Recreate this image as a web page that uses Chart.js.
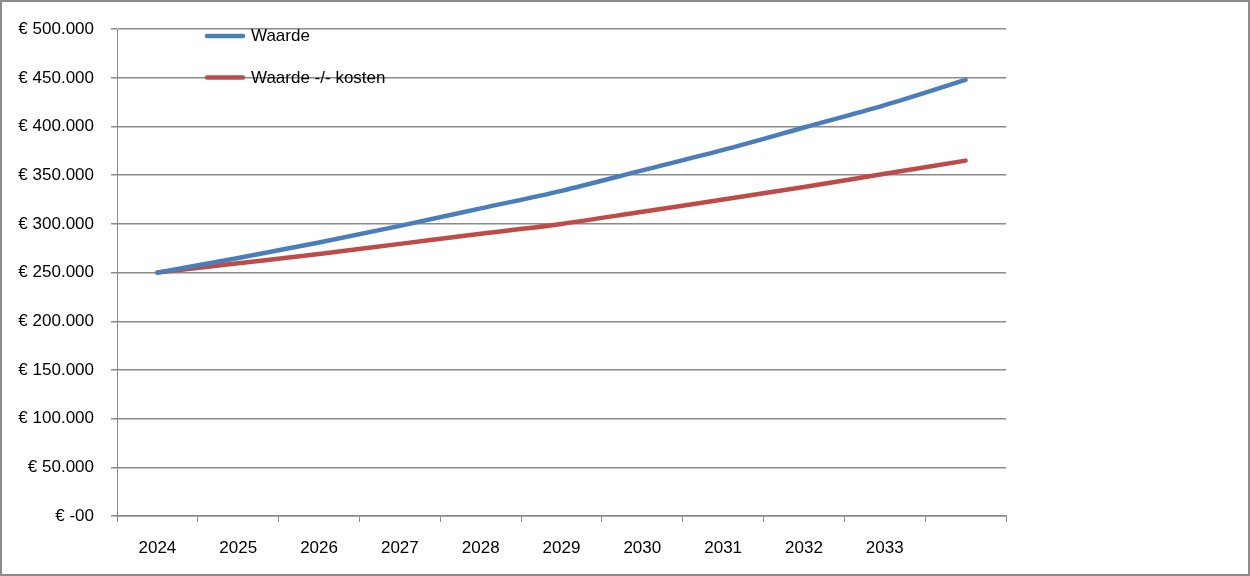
<!DOCTYPE html>
<html>
<head>
<meta charset="utf-8">
<script src="https://cdn.jsdelivr.net/npm/chart.js@4"></script>
<style>
  body { margin: 0; background: #fff; }
  #wrap { width: 1250px; height: 576px; box-sizing: border-box; border: 2px solid #8c8c8c; }
</style>
</head>
<body>
<div id="wrap"><canvas id="myChart"></canvas></div>
<script>
const years = ["2024", "2025", "2026", "2027", "2028", "2029", "2030", "2031", "2032", "2033", ""];
const waarde = [250000, 265000, 281000, 298000, 316000, 334000, 355000, 376000, 399000, 422000, 448000];
const waardeMinKosten = [250000, 259500, 269000, 279500, 290000, 300000, 312500, 325000, 338000, 351500, 365000];

const FONT = '"Liberation Sans", Arial, sans-serif';
const GRID = "#8a8a8a";

function euro(v) {
    if (v === 0) return "€ -00";
    return "€ " + String(v).replace(/\B(?=(\d{3})+(?!\d))/g, ".");
}

// legend drawn inside the plot, top left, like the original
const innerLegend = {
    id: "innerLegend",
    afterDraw(chart) {
        const c = chart.ctx;
        c.save();
        chart.data.datasets.forEach((ds, i) => {
            const y = 34 + i * 41.5;
            c.strokeStyle = ds.borderColor;
            c.lineWidth = 4.5;
            c.lineCap = "round";
            c.beginPath();
            c.moveTo(205, y);
            c.lineTo(241, y);
            c.stroke();
            c.fillStyle = "#000";
            c.font = "17px " + FONT;
            c.textBaseline = "middle";
            c.fillText(ds.label, 249, y + 0.5);
        });
        c.restore();
    }
};

const ctx = document.getElementById("myChart").getContext("2d");
new Chart(ctx, {
    type: "line",
    data: {
        labels: years,
        datasets: [{
            label: "Waarde",
            borderColor: "#4a7ebb",
            data: waarde
        }, {
            label: "Waarde -/- kosten",
            borderColor: "#be4b48",
            data: waardeMinKosten
        }]
    },
    options: {
        responsive: true,
        maintainAspectRatio: false,
        animation: false,
        layout: { padding: { top: 21, right: 242, bottom: 0, left: 0 } },
        elements: {
            line: { borderWidth: 4.5, cubicInterpolationMode: "monotone", borderCapStyle: "round" },
            point: { radius: 0, hoverRadius: 0 }
        },
        plugins: {
            legend: { display: false },
            tooltip: { enabled: false }
        },
        scales: {
            x: {
                offset: true,
                grid: { offset: true, drawOnChartArea: false, color: GRID, lineWidth: 1, tickLength: 6 },
                border: { color: GRID, width: 1.5 },
                ticks: { color: "#000", font: { family: FONT, size: 17 }, padding: 16, maxRotation: 0, autoSkip: false },
                afterFit: s => { s.height = 58; }
            },
            y: {
                min: 0,
                max: 500000,
                grid: { color: GRID, lineWidth: 1.5, tickLength: 6 },
                border: { color: GRID, width: 1 },
                ticks: { stepSize: 50000, color: "#000", font: { family: FONT, size: 17 }, padding: 17, callback: v => euro(v) },
                afterFit: s => { s.width = 115; }
            }
        }
    },
    plugins: [innerLegend]
});
</script>
</body>
</html>
